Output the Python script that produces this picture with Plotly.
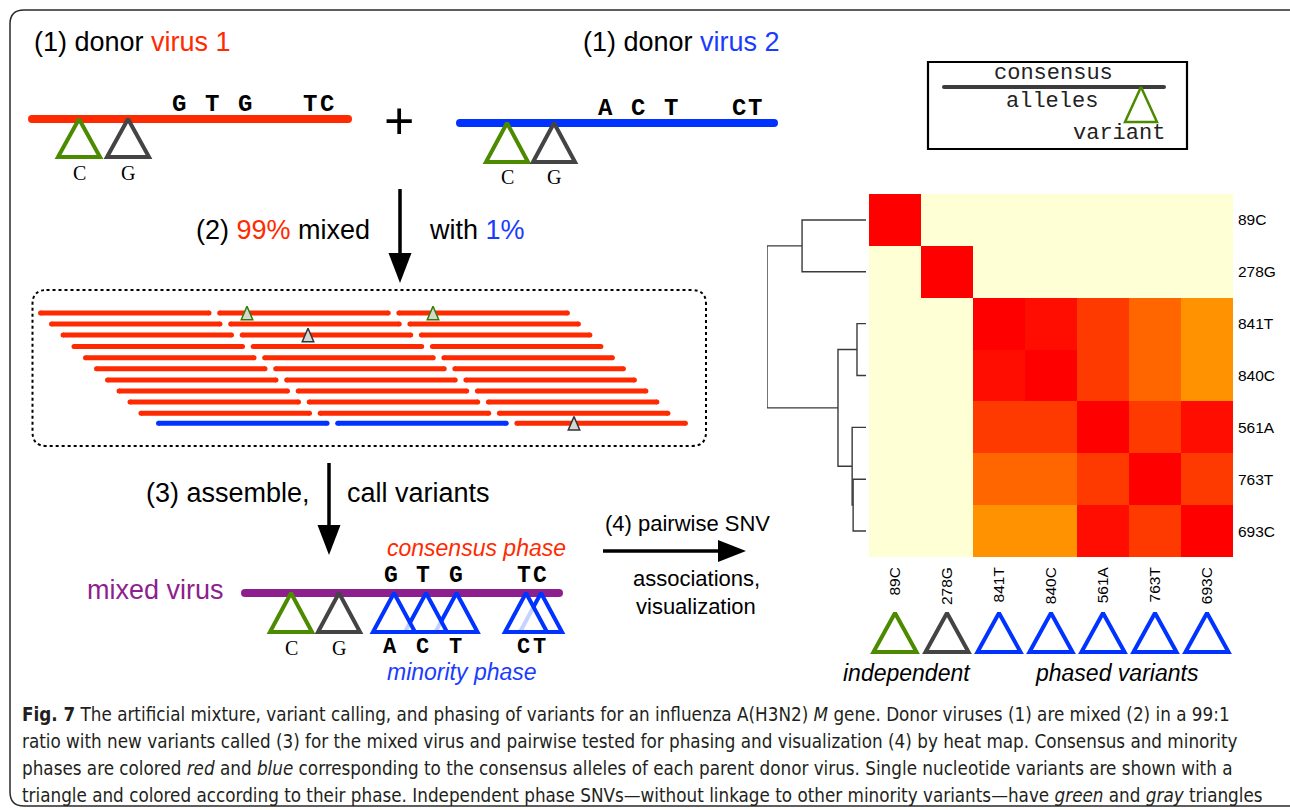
import plotly.graph_objects as go

W, H = 1290, 810

# ---------------- colours ----------------
RED = "#FF2A00"
BLUE = "#0033FF"
BLUE_TXT = "#1A3CFF"
PURPLE = "#8E1F8E"
GREEN = "#4C8A00"
GRAY = "#444444"
SANS = "Liberation Sans, Arial, sans-serif"
MONO = "Liberation Mono, Courier New, monospace"
SERIF = "Liberation Serif, Times New Roman, serif"

# ---------------- SNV association heat map ----------------
snv_labels = ["89C", "278G", "841T", "840C", "561A", "763T", "693C"]
snv_phase = ["green", "gray", "blue", "blue", "blue", "blue", "blue"]
linkage = [
    [1.0, 0.0, 0.0, 0.0, 0.0, 0.0, 0.0],
    [0.0, 1.0, 0.0, 0.0, 0.0, 0.0, 0.0],
    [0.0, 0.0, 1.0, 0.9, 0.8, 0.7, 0.6],
    [0.0, 0.0, 0.9, 1.0, 0.8, 0.7, 0.6],
    [0.0, 0.0, 0.8, 0.8, 1.0, 0.8, 0.9],
    [0.0, 0.0, 0.7, 0.7, 0.8, 1.0, 0.8],
    [0.0, 0.0, 0.6, 0.6, 0.9, 0.8, 1.0],
]
# hierarchical clustering of the rows: (child a, child b, merge height)
merges = [(5, 6, 0.13), (4, 7, 0.14), (2, 3, 0.091), (9, 8, 0.283), (0, 1, 0.646), (11, 10, 1.0)]

# R heat.colors(12)
heat_colors = ["#FF0000", "#FF2000", "#FF4000", "#FF6000", "#FF8000", "#FF9F00",
               "#FFBF00", "#FFDF00", "#FFFF00", "#FFFF2A", "#FFFF80", "#FFFFD5"]

# ---------------- schematic data ----------------
donor1_bar = (28, 352, 119)
donor1_variants_x = [79, 128]
donor1_variant_col = [GREEN, GRAY]
donor1_variant_base = ["C", "G"]
donor1_letters = ["G", "T", "G", "T", "C"]
donor1_letters_x = [179, 212, 245, 310, 327]

donor2_bar = (456, 778, 123)
donor2_variants_x = [507, 554]
donor2_variant_base = ["C", "G"]
donor2_letters = ["A", "C", "T", "C", "T"]
donor2_letters_x = [605, 638, 671, 739, 755]

mixed_bar = (241, 563, 593)
mixed_variants_x = [291, 339, 394, 426, 456.5, 526, 541]
mixed_variant_col = [GREEN, GRAY, BLUE, BLUE, BLUE, BLUE, BLUE]
mixed_consensus = ["G", "T", "G", "T", "C"]
mixed_consensus_x = [391, 423, 456, 524, 540]
mixed_minority = ["A", "C", "T", "C", "T"]
mixed_minority_x = [390, 422, 455, 523, 539]
mixed_indep_base = ["C", "G"]

# short reads: row start, row y, colour of each of the three reads
read_row_start = [38, 49, 60.5, 71.5, 83, 94, 105, 116.5, 127.5, 138.5, 156]
read_row_y = [313, 324, 335, 346.5, 357.7, 368.7, 380, 391, 402, 413.3, 423.3]
read_row_cols = [[RED] * 3] * 10 + [[BLUE, BLUE, RED]]
READ_LEN, READ_STEP = 173.5, 179.2
read_snvs = [(247, 0, "#2E7D00"), (433, 0, "#2E7D00"), (308, 2, "#333333"), (574, 10, "#333333")]

fig = go.Figure()


def bar(x0, x1, y, color, width):
    # round-capped bar: the end markers form the caps
    r = width / 2
    fig.add_trace(go.Scatter(
        x=[x0 + r, x1 - r], y=[y, y], mode="lines+markers",
        line=dict(color=color, width=width),
        marker=dict(color=color, size=width, line=dict(width=0)),
        hoverinfo="skip", showlegend=False))


def triangle(cx, ytop, w, h, color, lw, fill="rgba(255,255,255,0)"):
    fig.add_trace(go.Scatter(
        x=[cx - w / 2, cx, cx + w / 2, cx - w / 2, cx],
        y=[ytop + h, ytop, ytop + h, ytop + h, ytop],
        mode="lines", fill="toself", fillcolor=fill,
        line=dict(color=color, width=lw),
        hoverinfo="skip", showlegend=False))


annotations = []


def text(x, y, s, size, color="black", family=SANS, xanchor="center", yanchor="middle", angle=0):
    annotations.append(dict(
        x=x, y=y, xref="x", yref="y", text=s, showarrow=False,
        font=dict(size=size, color=color, family=family),
        xanchor=xanchor, yanchor=yanchor, textangle=angle))


# ---- (1) donor viruses ----
bar(donor1_bar[0], donor1_bar[1], donor1_bar[2], RED, 8)
for x, c, b in zip(donor1_variants_x, donor1_variant_col, donor1_variant_base):
    triangle(x, donor1_bar[2], 42, 38, c, 4)
    text(x, 173, b, 20, "black", SERIF)
for x, s in zip(donor1_letters_x, donor1_letters):
    text(x, 104, "<b>%s</b>" % s, 24, "black", MONO)

bar(donor2_bar[0], donor2_bar[1], donor2_bar[2], BLUE, 8)
for x, c, b in zip(donor2_variants_x, donor1_variant_col, donor2_variant_base):
    triangle(x, donor2_bar[2], 42, 39, c, 4)
    text(x, 177, b, 20, "black", SERIF)
for x, s in zip(donor2_letters_x, donor2_letters):
    text(x, 108, "<b>%s</b>" % s, 24, "black", MONO)

text(32, 42, "(1) donor <span style='color:%s'>virus 1</span>" % RED, 27, xanchor="left")
text(581, 42, "(1) donor <span style='color:%s'>virus 2</span>" % BLUE_TXT, 27, xanchor="left")
text(399, 121, "+", 52)

# ---- (2) mixing ----
text(372, 230, "(2) <span style='color:%s'>99%%</span> mixed" % RED, 27, xanchor="right")
text(427, 230, "with <span style='color:%s'>1%%</span>" % BLUE_TXT, 27, xanchor="left")

for row, (x0, y, cols) in enumerate(zip(read_row_start, read_row_y, read_row_cols)):
    for k, c in enumerate(cols):
        s = x0 + k * READ_STEP
        bar(s, s + READ_LEN, y, c, 5)
for x, row, c in read_snvs:
    triangle(x, read_row_y[row] - 6.7, 11.5, 13.4, c, 1.5, "#D6D6D6")

# ---- (3) mixed virus ----
bar(mixed_bar[0], mixed_bar[1], mixed_bar[2], PURPLE, 8)
# drawn right to left so each triangle's translucent fill veils its neighbour
for x, c in reversed(list(zip(mixed_variants_x, mixed_variant_col))):
    triangle(x, mixed_bar[2], 42, 39, c, 4, "rgba(255,255,255,0.78)")
for x, b in zip(mixed_variants_x[:2], mixed_indep_base):
    text(x, 648, b, 20, "black", SERIF)
for x, s in zip(mixed_consensus_x, mixed_consensus):
    text(x, 576, "<b>%s</b>" % s, 23, "black", MONO)
for x, s in zip(mixed_minority_x, mixed_minority):
    text(x, 647, "<b>%s</b>" % s, 22, "black", MONO)
text(226, 590, "mixed virus", 27, PURPLE, xanchor="right")
text(385, 548, "<i>consensus phase</i>", 23, RED, xanchor="left")
text(385, 672, "<i>minority phase</i>", 23, BLUE_TXT, xanchor="left")
text(312, 493, "(3) assemble,", 27, xanchor="right")
text(345, 493, "call variants", 27, xanchor="left")

# ---- (4) pairwise association ----
text(687, 523, "(4) pairwise SNV", 22)
text(696, 578, "associations,", 22)
text(696, 606, "visualization", 22)

# ---- legend box ----
text(1053, 73, "consensus", 22, "#222222", MONO)
text(1052, 101, "alleles", 22, "#222222", MONO)
text(1119, 133, "variant", 22, "#222222", MONO)
bar(942, 1166, 87, "#3C3C3C", 4)
triangle(1141, 87, 32, 35, GREEN, 2.5)

# ---- heat map geometry ----
HM_LEFT, HM_RIGHT, HM_TOP, HM_BOTTOM = 869, 1233, 194, 557
DEN_LEFT, DEN_RIGHT = 767, 866
n = len(snv_labels)
cell = (HM_RIGHT - HM_LEFT) / n

scale = []
for k, col in enumerate(heat_colors):
    lo = (11 - k) / 12
    hi = (12 - k) / 12
    scale += [[lo, col], [hi, col]]
scale.sort(key=lambda p: p[0])

fig.add_trace(go.Heatmap(
    z=linkage, x=list(range(n)), y=list(range(n)), zmin=0, zmax=1,
    colorscale=scale, showscale=False, xaxis="x2", yaxis="y2", hoverinfo="skip"))

# dendrogram
pos = {i: (0.0, float(i)) for i in range(n)}
dx, dy = [], []
for k, (a, b, h) in enumerate(merges):
    ha, ya = pos[a]
    hb, yb = pos[b]
    dx += [ha, h, h, hb, None]
    dy += [ya, ya, yb, yb, None]
    pos[n + k] = (h, (ya + yb) / 2)
fig.add_trace(go.Scatter(x=dx, y=dy, mode="lines", line=dict(color="#3A3A3A", width=1.4),
                         xaxis="x3", yaxis="y3", hoverinfo="skip", showlegend=False))

# phase triangles under the columns
phase_col = {"green": GREEN, "gray": GRAY, "blue": BLUE}
for i, ph in enumerate(snv_phase):
    cx = HM_LEFT + (i + 0.5) * cell
    triangle(cx, 613, 43, 39, phase_col[ph], 4)
text(907, 673, "<i>independent</i>", 23)
text(1117, 673, "<i>phased variants</i>", 23)

# ---- process arrows ----
shapes = []


def arrow_down(x, y0, y1, head_len=30, head_w=23):
    shapes.append(dict(type="line", xref="x", yref="y", x0=x, x1=x, y0=y0, y1=y1 - head_len + 2,
                       line=dict(color="black", width=3.5)))
    shapes.append(dict(type="path", xref="x", yref="y",
                       path="M %f,%f L %f,%f L %f,%f Z" % (x - head_w / 2, y1 - head_len, x + head_w / 2, y1 - head_len, x, y1),
                       fillcolor="black", line=dict(width=0)))


def arrow_right(x0, x1, y, head_len=28, head_w=22):
    shapes.append(dict(type="line", xref="x", yref="y", x0=x0, x1=x1 - head_len + 2, y0=y, y1=y,
                       line=dict(color="black", width=3.5)))
    shapes.append(dict(type="path", xref="x", yref="y",
                       path="M %f,%f L %f,%f L %f,%f Z" % (x1 - head_len, y - head_w / 2, x1 - head_len, y + head_w / 2, x1, y),
                       fillcolor="black", line=dict(width=0)))


arrow_down(400, 189, 283)
arrow_down(329, 463, 555)
arrow_right(603, 746, 551)

# dotted read box
bx0, bx1, by0, by1, r = 32.5, 706, 290, 446, 14
shapes.append(dict(
    type="path", xref="x", yref="y",
    path=("M %f,%f L %f,%f Q %f,%f %f,%f L %f,%f Q %f,%f %f,%f L %f,%f Q %f,%f %f,%f L %f,%f Q %f,%f %f,%f Z" % (
        bx0 + r, by0, bx1 - r, by0, bx1, by0, bx1, by0 + r, bx1, by1 - r, bx1, by1, bx1 - r, by1,
        bx0 + r, by1, bx0, by1, bx0, by1 - r, bx0, by0 + r, bx0, by0, bx0 + r, by0)),
    line=dict(color="black", width=2, dash="dot")))

# legend frame
shapes.append(dict(type="rect", xref="x", yref="y", x0=928, x1=1187, y0=62, y1=149,
                   line=dict(color="black", width=2.2)))

# figure frame
shapes.append(dict(type="path", xref="x", yref="y",
                   path="M 1300,10 L 24,10 Q 10,10 10,24 L 10,792 Q 10,806 24,806 L 1300,806",
                   line=dict(color="#2A2A2A", width=1.5)))

# ---- caption ----
CAP = "Liberation Sans Narrow, DejaVu Sans Condensed, Arial Narrow, sans-serif"
caption = [
    "<b>Fig. 7</b> The artificial mixture, variant calling, and phasing of variants for an influenza A(H3N2) <i>M</i> gene. Donor viruses (1) are mixed (2) in a 99:1",
    "ratio with new variants called (3) for the mixed virus and pairwise tested for phasing and visualization (4) by heat map. Consensus and minority",
    "phases are colored <i>red</i> and <i>blue</i> corresponding to the consensus alleles of each parent donor virus. Single nucleotide variants are shown with a",
    "triangle and colored according to their phase. Independent phase SNVs\u2014without linkage to other minority variants\u2014have <i>green</i> and <i>gray</i> triangles",
]
caption_y = [714, 741, 768, 795]
for s, y in zip(caption, caption_y):
    text(20, y, s, 18.7, "#231F20", CAP, xanchor="left")

fig.update_layout(
    width=W, height=H, autosize=False,
    margin=dict(l=0, r=0, t=0, b=0),
    paper_bgcolor="white", plot_bgcolor="rgba(0,0,0,0)",
    showlegend=False,
    xaxis=dict(range=[0, W], domain=[0, 1], visible=False, fixedrange=True),
    yaxis=dict(range=[H, 0], domain=[0, 1], visible=False, fixedrange=True),
    xaxis2=dict(domain=[HM_LEFT / W, HM_RIGHT / W], anchor="y2", range=[-0.5, n - 0.5],
                tickvals=list(range(n)), ticktext=snv_labels, tickangle=-90,
                showgrid=False, zeroline=False, showline=False, ticks="",
                ticklabelstandoff=6, tickfont=dict(family=SANS, size=15.5, color="black")),
    yaxis2=dict(domain=[1 - HM_BOTTOM / H, 1 - HM_TOP / H], anchor="x2", range=[n - 0.5, -0.5],
                side="right", tickvals=list(range(n)), ticktext=snv_labels,
                showgrid=False, zeroline=False, showline=False, ticks="",
                ticklabelstandoff=4, tickfont=dict(family=SANS, size=15.5, color="black")),
    xaxis3=dict(domain=[DEN_LEFT / W, DEN_RIGHT / W], anchor="y3", range=[1.0, 0.0], visible=False),
    yaxis3=dict(domain=[1 - HM_BOTTOM / H, 1 - HM_TOP / H], anchor="x3", range=[n - 0.5, -0.5], visible=False),
    annotations=annotations,
    shapes=shapes,
)

fig.write_html("out.html", config={"displayModeBar": False})
